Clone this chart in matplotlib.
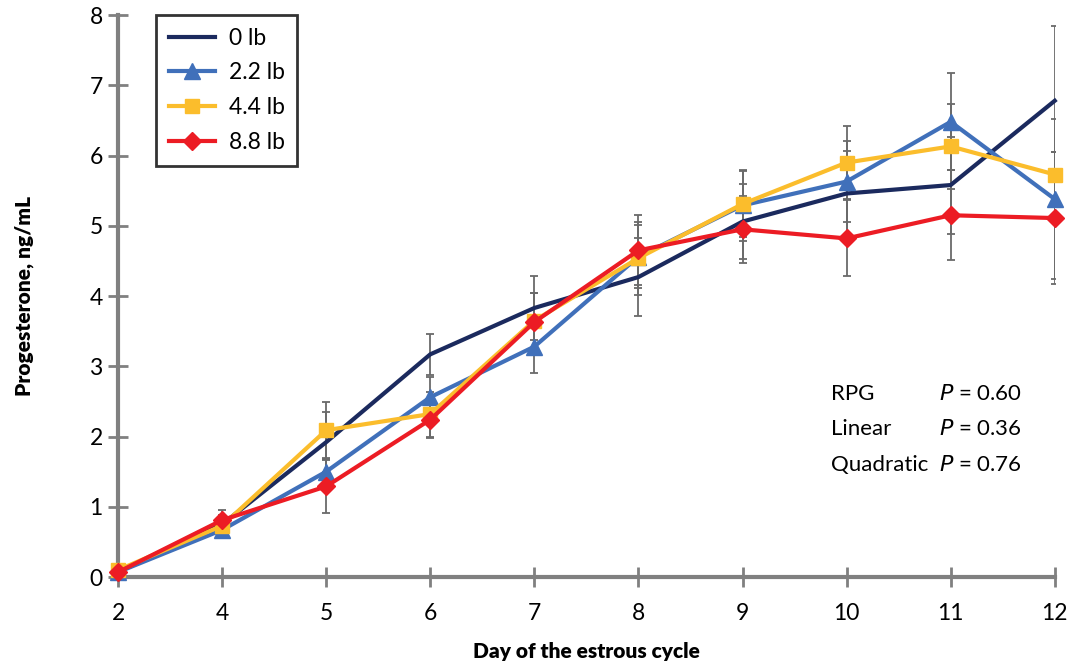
import matplotlib.pyplot as plt
import numpy as np

plt.rcParams['font.family'] = ['Lato', 'DejaVu Sans']

# day of the estrous cycle (categorical, equally spaced)
days = ['2', '4', '5', '6', '7', '8', '9', '10', '11', '12']

# progesterone means, ng/mL
p0 = [0.07, 0.75, 1.92, 3.17, 3.83, 4.27, 5.06, 5.46, 5.58, 6.78]
p22 = [0.07, 0.67, 1.50, 2.56, 3.28, 4.56, 5.29, 5.63, 6.48, 5.38]
p44 = [0.10, 0.73, 2.09, 2.32, 3.65, 4.54, 5.31, 5.90, 6.13, 5.73]
p88 = [0.07, 0.81, 1.29, 2.24, 3.63, 4.65, 4.95, 4.82, 5.15, 5.11]

# standard errors
se0 = [0.02, 0.13, 0.43, 0.29, 0.45, 0.55, 0.53, 0.60, 0.69, 1.06]
se22 = [0.02, 0.10, 0.18, 0.29, 0.38, 0.45, 0.50, 0.57, 0.69, 1.14]
se44 = [0.02, 0.12, 0.40, 0.32, 0.40, 0.52, 0.47, 0.52, 0.61, 0.32]
se88 = [0.02, 0.14, 0.38, 0.26, 0.42, 0.50, 0.48, 0.54, 0.64, 0.94]

labels = ['0 lb', '2.2 lb', '4.4 lb', '8.8 lb']
colors = ['#1b2a5e', '#4070ba', '#fbbd2c', '#ec1c24']
markers = [None, '^', 's', 'D']
msizes = [0, 11, 10, 9]

x = np.arange(len(days))

fig = plt.figure(figsize=(10.73, 6.69), dpi=100)
ax = fig.add_axes([0.110, 0.1375, 0.873, 0.840])

series = [(p0, se0), (p22, se22), (p44, se44), (p88, se88)]

# error bars first so lines sit on top
for y, se in series:
    ax.errorbar(x, y, yerr=se, fmt='none', ecolor='#6a6a6a', elinewidth=1.3,
                capsize=3, capthick=1.3, zorder=2)

for (y, se), lab, c, m, ms in zip(series, labels, colors, markers, msizes):
    ax.plot(x, y, color=c, lw=3, marker=m, markersize=ms, label=lab,
            markeredgecolor=c, zorder=3, clip_on=False)

ax.set_xlim(0, len(days) - 1)
ax.set_ylim(0, 8)
ax.set_xticks(x)
ax.set_xticklabels(days)
ax.set_yticks(range(0, 9))

for s in ['top', 'right']:
    ax.spines[s].set_visible(False)
for s in ['left', 'bottom']:
    ax.spines[s].set_color('#808080')
    ax.spines[s].set_linewidth(3)

ax.tick_params(axis='both', direction='inout', length=14, width=2,
               color='#808080', labelsize=16.5)
ax.tick_params(axis='x', pad=12)
ax.tick_params(axis='y', pad=4)

ax.set_xlabel('Day of the estrous cycle', fontsize=15, fontweight='heavy', labelpad=13)
ax.set_ylabel('Progesterone, ng/mL', fontsize=15, fontweight='heavy', labelpad=40)

leg = ax.legend(loc='upper left', bbox_to_anchor=(0.041, 1.0), borderaxespad=0,
                fontsize=16.5, frameon=True, fancybox=False, edgecolor='black',
                handlelength=2.0, borderpad=0.55, labelspacing=0.6,
                handletextpad=0.6)
leg.get_frame().set_linewidth(2)

stats = [('RPG', '0.60'), ('Linear', '0.36'), ('Quadratic', '0.76')]
for i, (name, pv) in enumerate(stats):
    yy = 2.6 - i * 0.5
    ax.text(6.85, yy, name, fontsize=16, va='center')
    ax.text(7.89, yy, r'$P$' + ' = ' + pv, fontsize=16, va='center')

fig.savefig('out.png', dpi=100)
